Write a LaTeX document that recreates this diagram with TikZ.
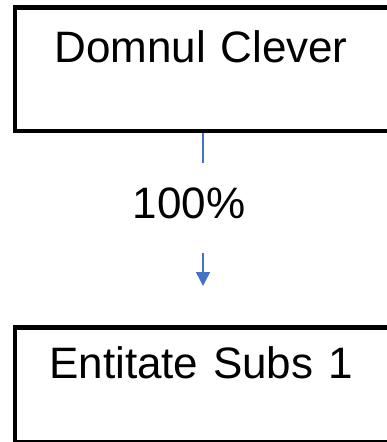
\documentclass[tikz,border=0pt]{standalone}
\usepackage{fontspec}
\setmainfont{Liberation Sans}
\usetikzlibrary{arrows.meta,positioning,calc}
\definecolor{legatura}{RGB}{68,114,196}
\tikzset{
  caseta/.style={draw,line width=4.5pt,rectangle,inner ysep=0pt,align=left,
    text width=360pt,font=\fontsize{44}{50}\selectfont},
  legatura/.style={draw=legatura,line width=1.5pt},
}

\begin{document}
\begin{tikzpicture}[x=1pt,y=1pt]
  \useasboundingbox (0,0) rectangle (387,-442);
  \clip (0,0) rectangle (387,-442);
  % entitatea mama
  \node[caseta,anchor=north west,inner xsep=39.5pt,text height=55pt,text depth=68.5pt] (clever) at (12.5,-5) {Domnul Clever};
  % cota de participare
  \node[font=\fontsize{44}{50}\selectfont,inner sep=0pt,text height=55pt,text depth=35pt,anchor=base] (cota) at (189,-218) {100\%};
  % entitatea subsidiara
  \node[caseta,anchor=north west,inner xsep=34.5pt,text height=51pt,text depth=64pt] (subs) at (12.5,-325) {Entitate Subs 1};
  \coordinate (varf) at (203,-286);
  \draw[legatura] (clever.south -| varf) -- (cota.north -| varf);
  \draw[legatura,-{Triangle[width=14pt,length=14pt]}] (cota.south -| varf) -- (varf);
\end{tikzpicture}
\end{document}
